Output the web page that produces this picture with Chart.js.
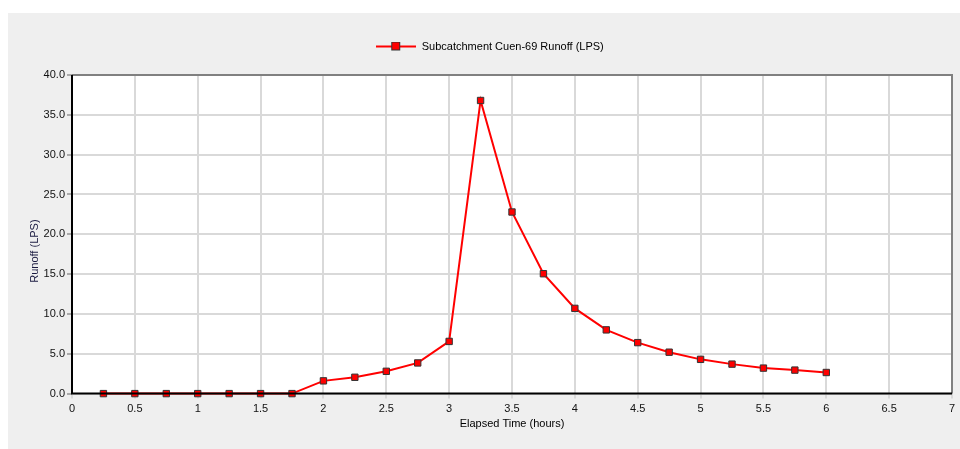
<!DOCTYPE html>
<html>
<head>
<meta charset="utf-8">
<script src="https://cdn.jsdelivr.net/npm/chart.js@4/dist/chart.umd.min.js"></script>
<style>
  body { margin: 0; background: #ffffff; }
  #panel { position: absolute; left: 8px; top: 13px; width: 952px; height: 436px; background: #efefef; }
</style>
</head>
<body>
<div id="panel"><canvas id="myChart" width="952" height="436"></canvas></div>
<script>
// Elapsed time (hours)
var hours = [0.25, 0.5, 0.75, 1, 1.25, 1.5, 1.75, 2, 2.25, 2.5, 2.75, 3, 3.25, 3.5, 3.75, 4, 4.25, 4.5, 4.75, 5, 5.25, 5.5, 5.75, 6];
// Runoff (LPS)
var runoff = [0, 0, 0, 0, 0, 0, 0, 1.6, 2.05, 2.8, 3.85, 6.55, 36.8, 22.8, 15.05, 10.7, 8.0, 6.4, 5.2, 4.3, 3.7, 3.2, 2.95, 2.65];
var xTicks = [0, 0.5, 1, 1.5, 2, 2.5, 3, 3.5, 4, 4.5, 5, 5.5, 6, 6.5, 7];
var yTicks = [0, 5, 10, 15, 20, 25, 30, 35, 40];

var FONT = "'Liberation Sans', Arial, sans-serif";

// legend symbol: red line with a square marker
var legendIcon = document.createElement("canvas");
legendIcon.width = 40;
legendIcon.height = 10;
var lc = legendIcon.getContext("2d");
lc.strokeStyle = "#ff0000";
lc.lineWidth = 2;
lc.beginPath();
lc.moveTo(0, 5);
lc.lineTo(40, 5);
lc.stroke();
lc.fillStyle = "#ff0000";
lc.fillRect(15, 0, 9, 9);
lc.strokeStyle = "#333333";
lc.lineWidth = 1;
lc.strokeRect(15.5, 0.5, 8, 8);

// white plot area, frame, and some extra room under the legend
var plotFrame = {
    id: "plotFrame",
    beforeLayout: function (chart) {
        var lg = chart.legend;
        if (lg && !lg._extraRoom) {
            var fit = lg.fit;
            lg.fit = function () {
                fit.call(this);
                this.height += 13;
            };
            lg._extraRoom = true;
        }
    },
    beforeDraw: function (chart) {
        var a = chart.chartArea, c = chart.ctx;
        c.save();
        c.fillStyle = "#ffffff";
        c.fillRect(a.left, a.top, a.right - a.left, a.bottom - a.top);
        c.restore();
    },
    afterDatasetsDraw: function (chart) {
        var a = chart.chartArea, c = chart.ctx;
        c.save();
        c.lineWidth = 2;
        c.strokeStyle = "#808080";
        c.beginPath();
        c.moveTo(a.left, a.top);
        c.lineTo(a.right, a.top);
        c.lineTo(a.right, a.bottom);
        c.stroke();
        c.strokeStyle = "#000000";
        c.beginPath();
        c.moveTo(a.left, a.top);
        c.lineTo(a.left, a.bottom);
        c.lineTo(a.right, a.bottom);
        c.stroke();
        c.restore();
    }
};

var ctx = document.getElementById("myChart").getContext("2d");
var myChart = new Chart(ctx, {
    type: "line",
    data: {
        datasets: [
            {
                label: "Subcatchment Cuen-69 Runoff (LPS)",
                data: hours.map(function (h, i) { return { x: h, y: runoff[i] }; }),
                borderColor: "#ff0000",
                borderWidth: 2,
                backgroundColor: "#ff0000",
                pointStyle: "rect",
                pointRadius: 4.5,
                pointBorderColor: "#333333",
                pointBorderWidth: 1,
                pointBackgroundColor: "#ff0000",
                tension: 0,
                clip: false
            }
        ]
    },
    options: {
        responsive: false,
        animation: false,
        layout: { padding: { top: 3, right: 8, left: 20, bottom: 18 } },
        plugins: {
            legend: {
                display: true,
                position: "top",
                labels: {
                    usePointStyle: true,
                    pointStyleWidth: 40,
                    color: "#000000",
                    font: { family: FONT, size: 11 },
                    padding: 25,
                    generateLabels: function (chart) {
                        return [{
                            text: chart.data.datasets[0].label,
                            pointStyle: legendIcon,
                            datasetIndex: 0,
                            fontColor: "#000000",
                            lineWidth: 0
                        }];
                    }
                }
            },
            tooltip: { enabled: false }
        },
        scales: {
            x: {
                type: "linear",
                min: 0,
                max: 7,
                afterBuildTicks: function (s) { s.ticks = xTicks.map(function (v) { return { value: v }; }); },
                ticks: {
                    color: "#111111",
                    font: { family: FONT, size: 11 },
                    padding: 4,
                    maxRotation: 0,
                    callback: function (v) { return String(v); }
                },
                grid: { color: "#d9d9d9", lineWidth: 2, tickLength: 5, tickColor: "#d9d9d9" },
                border: { display: false },
                title: {
                    display: true,
                    text: "Elapsed Time (hours)",
                    color: "#000000",
                    font: { family: FONT, size: 11 },
                    padding: { top: -2, bottom: 0 }
                }
            },
            y: {
                min: 0,
                max: 40,
                afterBuildTicks: function (s) { s.ticks = yTicks.map(function (v) { return { value: v }; }); },
                afterFit: function (s) { s.width = 44; },
                ticks: {
                    color: "#111111",
                    font: { family: FONT, size: 11 },
                    padding: 2,
                    callback: function (v) { return v.toFixed(1); }
                },
                grid: { color: "#d9d9d9", lineWidth: 2, tickLength: 5, tickColor: "#aaaaaa" },
                border: { display: false },
                title: {
                    display: true,
                    text: "Runoff (LPS)           ",
                    color: "#1a1a40",
                    font: { family: FONT, size: 11 },
                    padding: { top: 0, bottom: 4 }
                }
            }
        }
    },
    plugins: [plotFrame]
});
</script>
</body>
</html>
